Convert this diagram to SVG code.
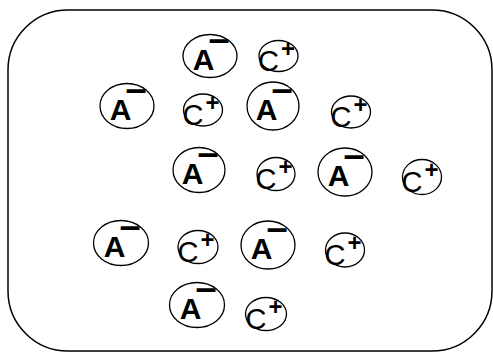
<svg xmlns="http://www.w3.org/2000/svg" width="493" height="352" viewBox="0 0 493 352">
<style>
.frame{fill:#fff;stroke:#000;stroke-width:1.5}
.ion{fill:#fff;stroke:#000;stroke-width:1.3}
.a{font-family:"Liberation Sans",Arial,sans-serif;font-weight:bold;font-size:30px;text-anchor:middle;fill:#000}
.am{font-size:38px}
.c{font-family:"Liberation Sans",Arial,sans-serif;font-size:29px;text-anchor:middle;fill:#000}
.cp{font-weight:bold;font-size:24px}
</style>
<rect width="493" height="352" fill="#fff"/>
<rect id="container" class="frame" x="8" y="10" width="484" height="341" rx="60" ry="60"/>
<g id="connectors"></g>
<g id="anion1" transform="translate(210,56)"><ellipse class="ion" rx="27" ry="21.5"/><text class="a" x="-6.5" y="14">A<tspan class="am" x="9" y="-4.4">–</tspan></text></g>
<g id="cation1" transform="translate(278.5,56)"><ellipse class="ion" rx="19.5" ry="15.5"/><text class="c" x="-10" y="15">C<tspan class="cp" x="9.5" y="0.6">+</tspan></text></g>
<g id="anion2" transform="translate(127,106)"><ellipse class="ion" rx="27" ry="22.5"/><text class="a" x="-6.5" y="14">A<tspan class="am" x="9" y="-4.4">–</tspan></text></g>
<g id="cation2" transform="translate(203,110)"><ellipse class="ion" rx="19.5" ry="16"/><text class="c" x="-10" y="15">C<tspan class="cp" x="9.5" y="0.6">+</tspan></text></g>
<g id="anion3" transform="translate(273,106)"><ellipse class="ion" rx="26" ry="24"/><text class="a" x="-6.5" y="14">A<tspan class="am" x="9" y="-4.4">–</tspan></text></g>
<g id="cation3" transform="translate(351,112)"><ellipse class="ion" rx="19.5" ry="16"/><text class="c" x="-10" y="15">C<tspan class="cp" x="9.5" y="0.6">+</tspan></text></g>
<g id="anion4" transform="translate(199,170)"><ellipse class="ion" rx="26" ry="22.5"/><text class="a" x="-6.5" y="14">A<tspan class="am" x="9" y="-4.4">–</tspan></text></g>
<g id="cation4" transform="translate(276,174)"><ellipse class="ion" rx="19" ry="16.5"/><text class="c" x="-10" y="15">C<tspan class="cp" x="9.5" y="0.6">+</tspan></text></g>
<g id="anion5" transform="translate(345,172)"><ellipse class="ion" rx="27" ry="24"/><text class="a" x="-6.5" y="14">A<tspan class="am" x="9" y="-4.4">–</tspan></text></g>
<g id="cation5" transform="translate(422,177)"><ellipse class="ion" rx="19.5" ry="17.5"/><text class="c" x="-10" y="15">C<tspan class="cp" x="9.5" y="0.6">+</tspan></text></g>
<g id="anion6" transform="translate(121,243)"><ellipse class="ion" rx="27.5" ry="22.5"/><text class="a" x="-6.5" y="14">A<tspan class="am" x="9" y="-4.4">–</tspan></text></g>
<g id="cation6" transform="translate(198,247)"><ellipse class="ion" rx="20" ry="16.5"/><text class="c" x="-10" y="15">C<tspan class="cp" x="9.5" y="0.6">+</tspan></text></g>
<g id="anion7" transform="translate(268,245)"><ellipse class="ion" rx="27" ry="24"/><text class="a" x="-6.5" y="14">A<tspan class="am" x="9" y="-4.4">–</tspan></text></g>
<g id="cation7" transform="translate(345,250)"><ellipse class="ion" rx="19.5" ry="17"/><text class="c" x="-10" y="15">C<tspan class="cp" x="9.5" y="0.6">+</tspan></text></g>
<g id="anion8" transform="translate(197,305)"><ellipse class="ion" rx="27.5" ry="22.5"/><text class="a" x="-6.5" y="14">A<tspan class="am" x="9" y="-4.4">–</tspan></text></g>
<g id="cation8" transform="translate(266,314)"><ellipse class="ion" rx="20.5" ry="16.5"/><text class="c" x="-10" y="15">C<tspan class="cp" x="9.5" y="0.6">+</tspan></text></g>
</svg>
